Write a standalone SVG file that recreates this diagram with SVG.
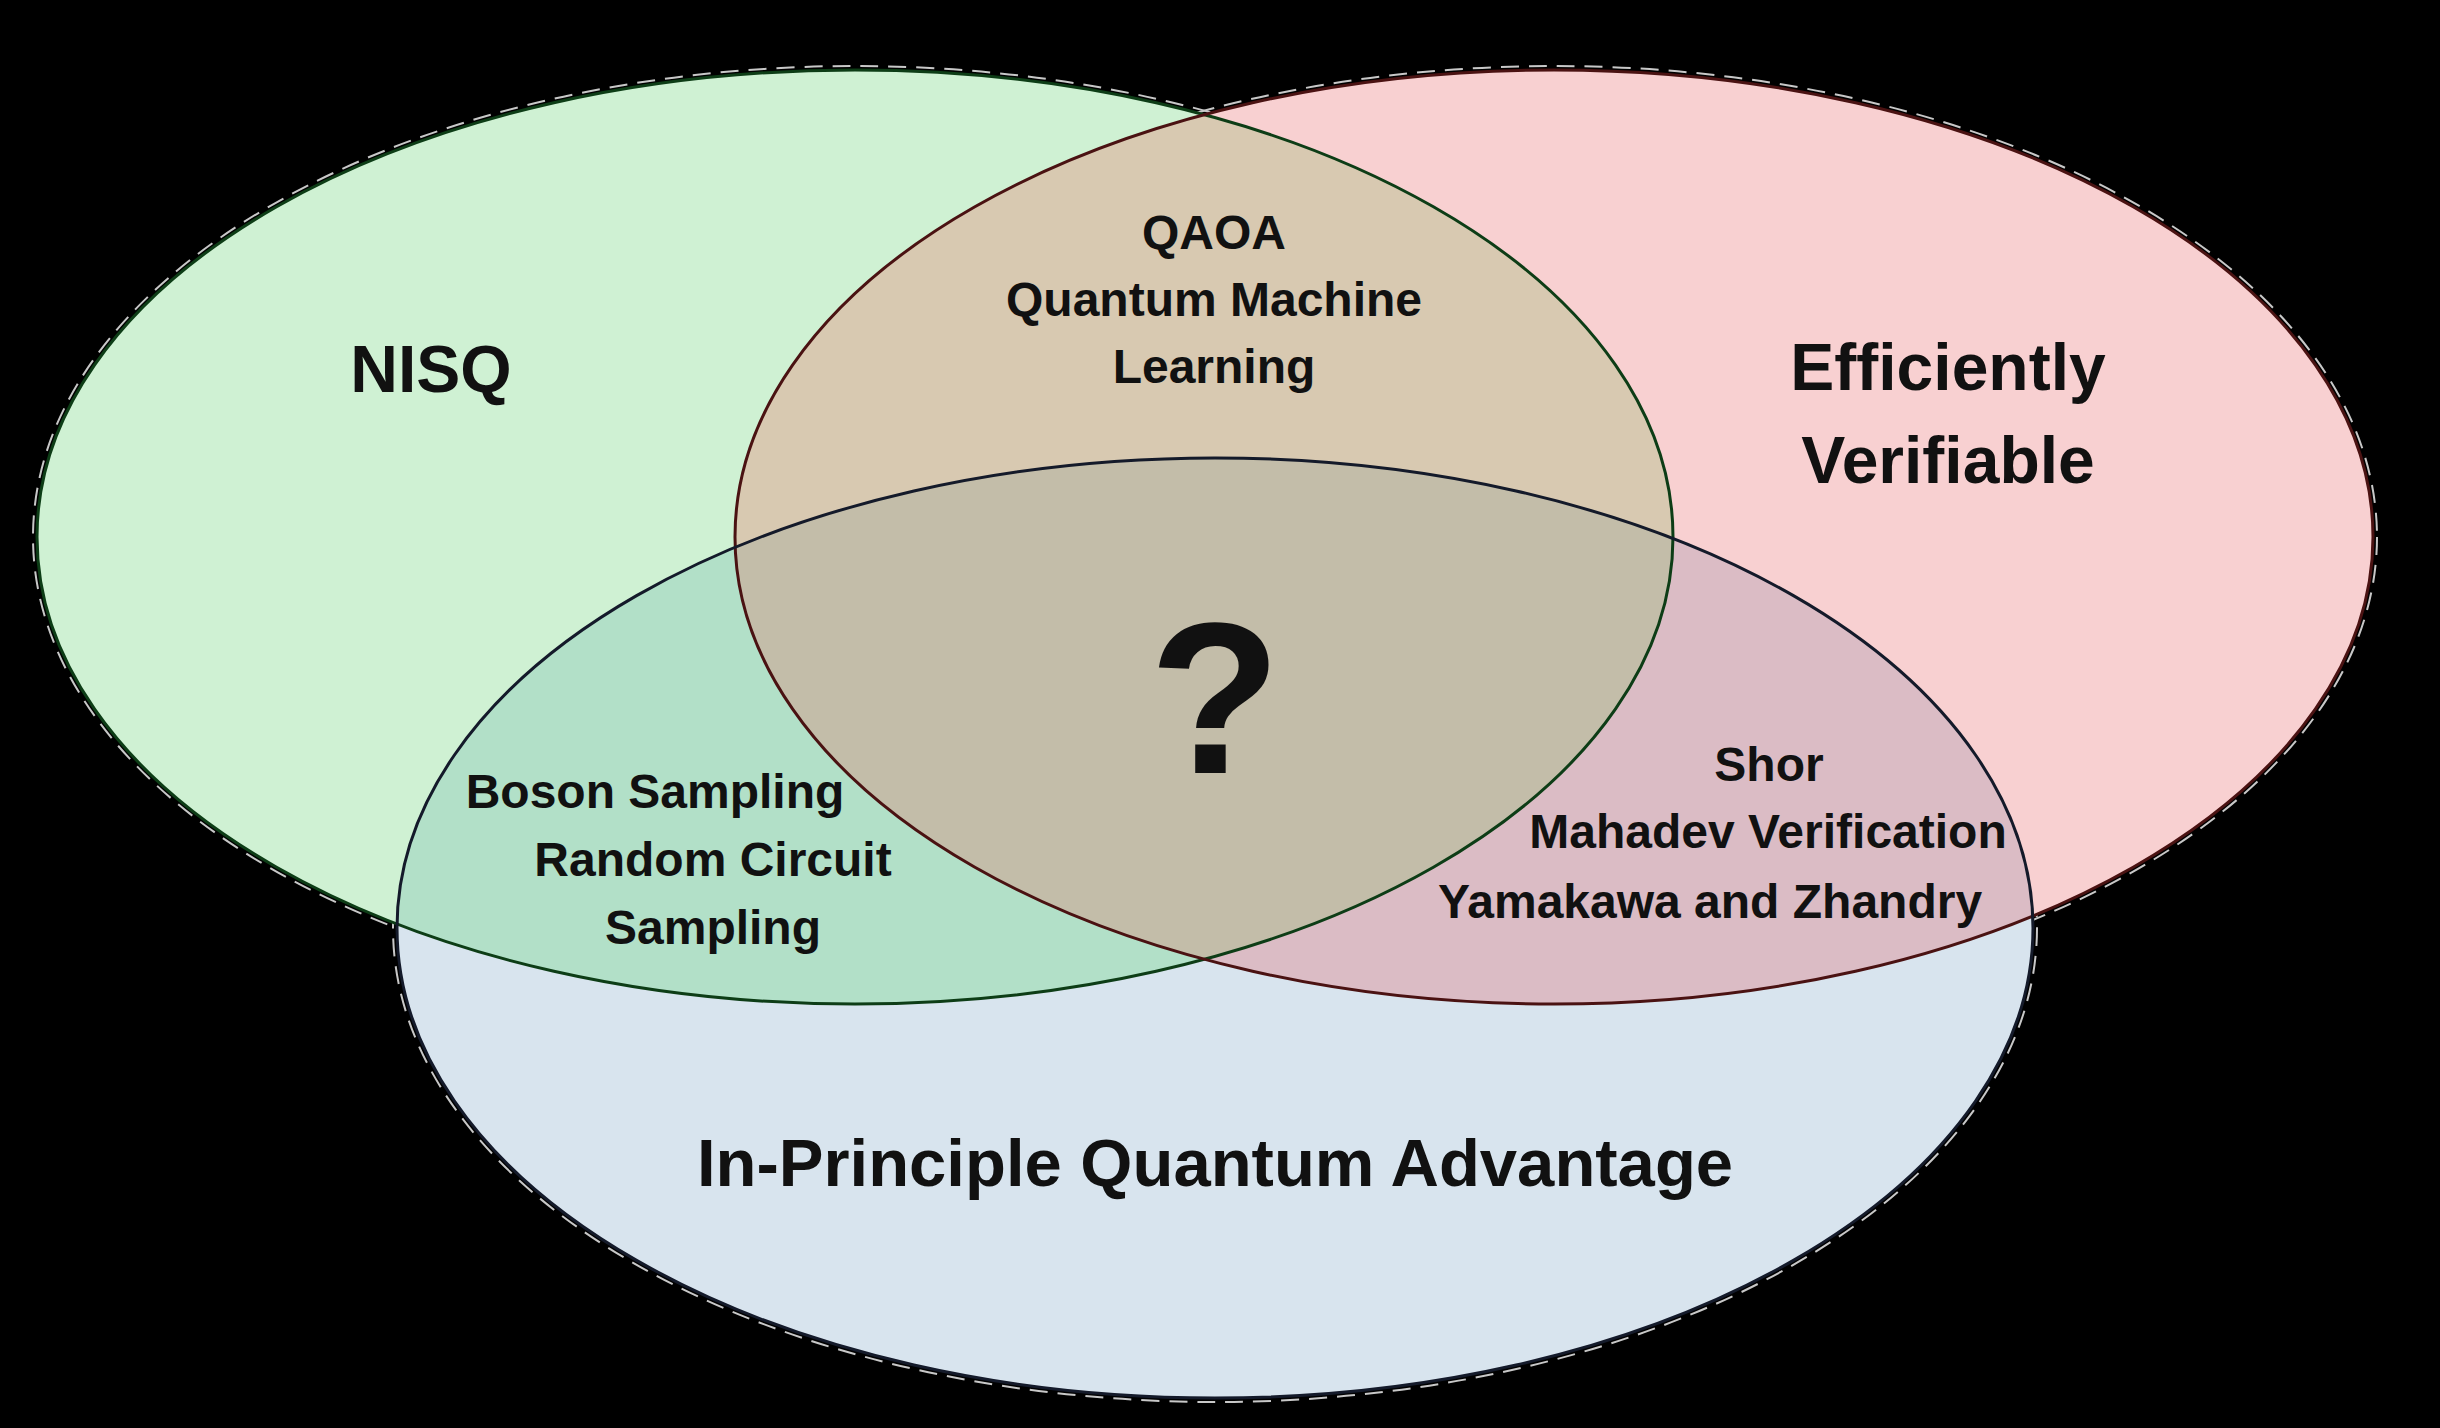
<svg xmlns="http://www.w3.org/2000/svg" width="2440" height="1428" viewBox="0 0 2440 1428">
<style>
.lbl{font-family:"Liberation Sans",Arial,sans-serif;font-weight:bold;fill:#111;text-anchor:middle}
.big{font-size:66px}
.mid{font-size:48px}
.halo{fill:none;stroke:#c8c8c8;stroke-width:2;stroke-dasharray:18 10}
.edge{fill:none;stroke-width:3}
</style>
<defs>
<clipPath id="cL"><ellipse cx="855" cy="537" rx="818" ry="467"/></clipPath>
<clipPath id="cR"><ellipse cx="1554" cy="537" rx="819" ry="467"/></clipPath>
<clipPath id="cB"><ellipse cx="1215" cy="928" rx="818" ry="470"/></clipPath>
</defs>
<rect width="2440" height="1428" fill="#000"/>
<g id="halos">
<ellipse class="halo" cx="855" cy="537" rx="822" ry="471"/>
<ellipse class="halo" cx="1554" cy="537" rx="823" ry="471"/>
<ellipse class="halo" cx="1215" cy="928" rx="822" ry="474"/>
</g>
<g id="regions">
<ellipse cx="855" cy="537" rx="818" ry="467" fill="#cff1d3"/>
<ellipse cx="1554" cy="537" rx="819" ry="467" fill="#f8d0d1"/>
<ellipse cx="1215" cy="928" rx="818" ry="470" fill="#d8e4ee"/>
<ellipse cx="1554" cy="537" rx="819" ry="467" fill="#d8c9b1" clip-path="url(#cL)"/>
<ellipse cx="1215" cy="928" rx="818" ry="470" fill="#b2e0c8" clip-path="url(#cL)"/>
<ellipse cx="1215" cy="928" rx="818" ry="470" fill="#dbbcc5" clip-path="url(#cR)"/>
<g clip-path="url(#cL)"><ellipse cx="1215" cy="928" rx="818" ry="470" fill="#c3bda9" clip-path="url(#cR)"/></g>
</g>
<g id="nisq">
<ellipse class="edge" cx="855" cy="537" rx="818" ry="467" stroke="#0d3d16"/>
<text class="lbl big" x="431" y="392" font-size="65">NISQ</text>
</g>
<g id="efficiently-verifiable">
<ellipse class="edge" cx="1554" cy="537" rx="819" ry="467" stroke="#4a1212"/>
<text class="lbl big" x="1948" y="390">Efficiently</text>
<text class="lbl big" x="1948" y="483">Verifiable</text>
</g>
<g id="in-principle-quantum-advantage">
<ellipse class="edge" cx="1215" cy="928" rx="818" ry="470" stroke="#141a2a"/>
<text class="lbl" x="1215" y="1186" font-size="67">In-Principle Quantum Advantage</text>
</g>
<g id="nisq-verifiable">
<text class="lbl mid" x="1214" y="249">QAOA</text>
<text class="lbl mid" x="1214" y="316">Quantum Machine</text>
<text class="lbl mid" x="1214" y="383">Learning</text>
</g>
<g id="nisq-advantage">
<text class="lbl mid" x="655" y="808">Boson Sampling</text>
<text class="lbl mid" x="713" y="876">Random Circuit</text>
<text class="lbl mid" x="713" y="944">Sampling</text>
</g>
<g id="verifiable-advantage">
<text class="lbl mid" x="1769" y="781">Shor</text>
<text class="lbl mid" x="1768" y="848">Mahadev Verification</text>
<text class="lbl mid" x="1710" y="918">Yamakawa and Zhandry</text>
</g>
<g id="center">
<text class="lbl" x="1215" y="773" font-size="216">?</text>
</g>
</svg>
